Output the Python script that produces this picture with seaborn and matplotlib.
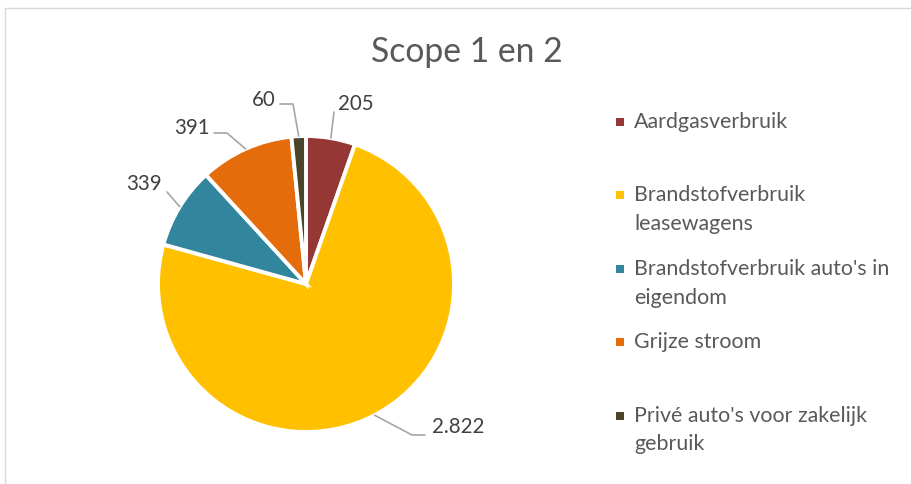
import numpy as np
import matplotlib
matplotlib.use("Agg")
import matplotlib.pyplot as plt
import seaborn as sns
from matplotlib.patches import Rectangle

# Data
categories = ["Aardgasverbruik", "Brandstofverbruik\nleasewagens",
              "Brandstofverbruik auto's in\neigendom", "Grijze stroom",
              "Privé auto's voor zakelijk\ngebruik"]
values = [205, 2822, 339, 391, 60]
value_labels = ["205", "2.822", "339", "391", "60"]
colors = ["#953735", "#FFC000", "#31859C", "#E46C0A", "#4A452A"]

sns.set_theme(style="white")
plt.rcParams['font.family'] = ['Lato', 'DejaVu Sans']

W, H = 912, 484
fig = plt.figure(figsize=(W / 100, H / 100), dpi=100)

# chart frame
fig.patches.append(Rectangle((5 / W, -0.1), 1.2, (H - 8) / H + 0.1, transform=fig.transFigure,
                             fill=False, edgecolor="#D9D9D9", linewidth=1))

# pie axes: centre (306, 284) px, radius 148 px
cx, cy, r = 306, 284, 148
ax = fig.add_axes([(cx - r) / W, (H - cy - r) / H, 2 * r / W, 2 * r / H])
ax.pie(values, colors=sns.color_palette(colors), startangle=90, counterclock=False,
       wedgeprops=dict(edgecolor="white", linewidth=2.8))
ax.set_xlim(-1, 1)
ax.set_ylim(-1, 1)
ax.set_aspect("equal")
ax.axis("off")

# data labels with leader lines
frac = np.cumsum([0] + values) / sum(values)
mid = (frac[:-1] + frac[1:]) / 2 * 2 * np.pi
anchors = [(np.sin(a), np.cos(a)) for a in mid]

def px(x, y):
    return ((x - cx) / r, (cy - y) / r)

# text position (px), alignment, leader elbow points (px)
label_layout = [
    ((338, 104), "left", [(334, 112)]),
    ((432, 427), "left", [(412, 435), (425, 435)]),
    ((162, 184), "right", [(167, 192)]),
    ((210, 128), "right", [(227, 133), (214, 133)]),
    ((276, 100), "right", [(293, 104), (280, 104)]),
]
for lab, anc, (tpos, ha, elbows) in zip(value_labels, anchors, label_layout):
    pts = [anc] + [px(*p) for p in elbows]
    xs, ys = zip(*pts)
    ax.plot(xs, ys, color="#A6A6A6", linewidth=1.2, clip_on=False)
    tx, ty = px(*tpos)
    ax.text(tx, ty, lab, ha=ha, va="center", fontsize=14.8, color="#404040", clip_on=False)

# title
fig.text(467 / W, 1 - 52 / H, "Scope 1 en 2", ha="center", va="center",
         fontsize=24.3, color="#595959")

# legend (Excel-style, evenly pitched entries)
leg_y = [122, 195, 269, 342, 416]
line_h = 28.5
for lab, col, y in zip(categories, colors, leg_y):
    fig.patches.append(Rectangle((616 / W, 1 - (y + 4) / H), 8 / W, 8 / H,
                                 transform=fig.transFigure, facecolor=col, edgecolor="none"))
    for k, line in enumerate(lab.split("\n")):
        fig.text(634 / W, 1 - (y + k * line_h) / H, line, ha="left", va="center",
                 fontsize=15.4, color="#595959")

fig.savefig("out.png", dpi=100)
